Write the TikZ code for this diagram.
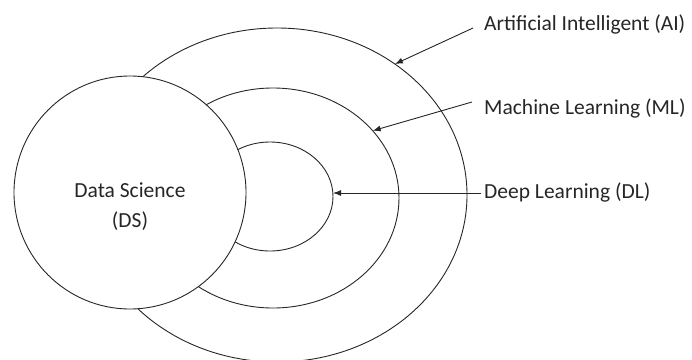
\documentclass[tikz,border=0pt]{standalone}
\usepackage{fontspec}
\setmainfont{Carlito}
\usetikzlibrary{shapes.geometric,arrows.meta}
\begin{document}
\begin{tikzpicture}[x=1pt,y=-1pt,
  ring/.style={draw=black!85, line width=0.9pt, ellipse, inner sep=0pt, outer sep=0pt},
  lbl/.style={font=\fontsize{21.5}{30}\selectfont, text=black!85, anchor=west, inner sep=0pt},
  pointer/.style={draw=black!85, line width=0.9pt, -{Latex[length=8pt,width=6pt]}}]
\useasboundingbox (0,0) rectangle (692,359);
\node[ring, minimum width=380pt, minimum height=334pt] (ai) at (277,195) {};
\node[ring, minimum width=252pt, minimum height=220pt] (ml) at (273,198) {};
\node[ring, minimum width=126pt, minimum height=109pt] (dl) at (270,196.5) {};
\node[ring, fill=white, minimum width=232pt, minimum height=233pt] (ds) at (130,192.5) {};
\node[font=\fontsize{21.5}{30}\selectfont, text=black!85, align=center] (dstext) at (130,207) {Data Science\\(DS)};
\node[lbl] (ailabel) at (484,24) {Artificial Intelligent (AI)};
\node[lbl] (mllabel) at (484,108) {Machine Learning (ML)};
\node[lbl] (dllabel) at (484,192) {Deep Learning (DL)};
\coordinate (aistart) at (473,28);
\coordinate (mlstart) at (472,102);
\coordinate (dlstart) at (481,193);
\draw[pointer] (aistart) -- (ai.48.7);
\draw[pointer] (mlstart) -- (ml.34.5);
\draw[pointer] (dlstart) -- (dlstart -| dl.east);
\end{tikzpicture}
\end{document}
